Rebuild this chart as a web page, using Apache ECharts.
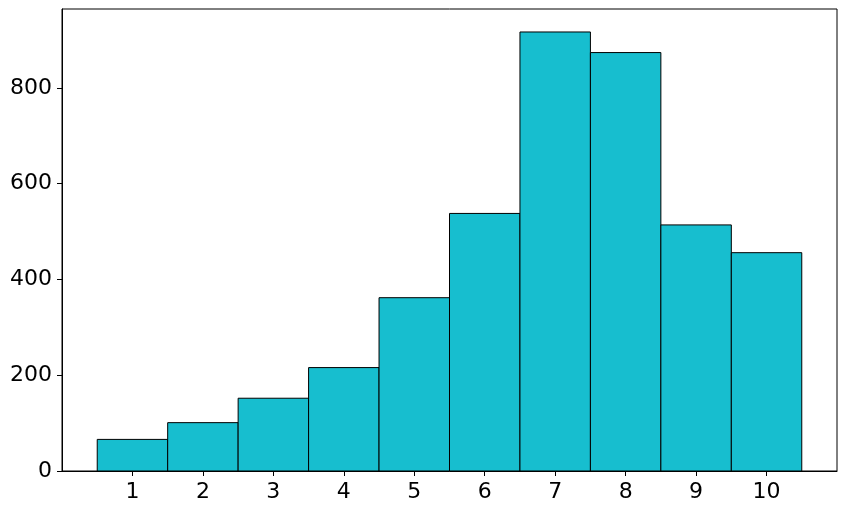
<!DOCTYPE html>
<html>
<head>
<meta charset="utf-8">
<script src="https://cdn.jsdelivr.net/npm/echarts@6/dist/echarts.min.js"></script>
<style>
    html, body { margin: 0; padding: 0; background: #fff; }
    #hist { width: 847px; height: 511px; }
</style>
</head>
<body>
<div id="hist"></div>
<script>
    // bins (centres) and counts
    var categories = [1, 2, 3, 4, 5, 6, 7, 8, 9, 10];
    var counts = [66, 101, 152, 216, 362, 538, 917, 874, 514, 456];
    var yTicks = [0, 200, 400, 600, 800];

    var chart = echarts.init(document.getElementById('hist'));

    var data = categories.map(function (c, i) {
        return [c - 0.5, c + 0.5, counts[i]];
    });

    var option = {
        animation: false,
        textStyle: { fontFamily: 'DejaVu Sans' },
        grid: {
            left: 62,
            right: 10,
            top: 9,
            bottom: 40,
            show: true,
            borderColor: '#000',
            borderWidth: 1,
            backgroundColor: 'transparent'
        },
        xAxis: {
            type: 'value',
            min: 0,
            max: 11,
            interval: 1,
            splitLine: { show: false },
            axisLine: { show: true, lineStyle: { color: '#000', width: 1 } },
            axisTick: {
                show: true,
                length: 5,
                lineStyle: { color: '#000' },
                customValues: categories
            },
            axisLabel: {
                color: '#000',
                fontSize: 22,
                margin: 10,
                customValues: categories
            }
        },
        yAxis: {
            type: 'value',
            min: 0,
            max: 965,
            splitLine: { show: false },
            axisLine: { show: true, lineStyle: { color: '#000', width: 1 } },
            axisTick: {
                show: true,
                length: 5,
                lineStyle: { color: '#000' },
                customValues: yTicks
            },
            axisLabel: {
                color: '#000',
                fontSize: 22,
                margin: 10,
                customValues: yTicks
            }
        },
        series: [{
            type: 'custom',
            data: data,
            encode: { x: [0, 1], y: 2 },
            renderItem: function (params, api) {
                var p0 = api.coord([api.value(0), api.value(2)]);
                var p1 = api.coord([api.value(1), 0]);
                return {
                    type: 'rect',
                    shape: { x: p0[0], y: p0[1], width: p1[0] - p0[0], height: p1[1] - p0[1] },
                    style: { fill: '#17becf', stroke: '#000', lineWidth: 1 }
                };
            }
        }]
    };

    chart.setOption(option);
</script>
</body>
</html>
